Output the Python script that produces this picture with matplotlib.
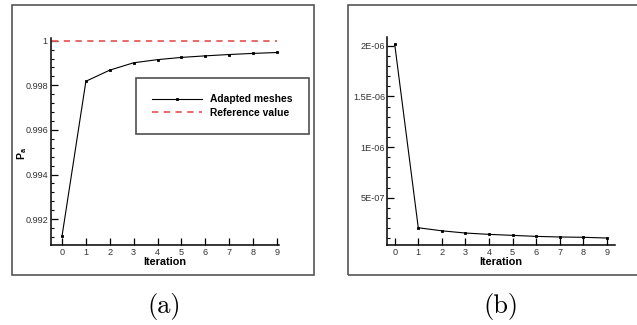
import matplotlib
matplotlib.use("Agg")
import matplotlib.pyplot as plt
from matplotlib.patches import Rectangle
from matplotlib.ticker import MultipleLocator, FuncFormatter

plt.rcParams['font.family'] = ['Liberation Sans', 'DejaVu Sans']
plt.rcParams['mathtext.fontset'] = 'custom'
plt.rcParams['mathtext.bf'] = 'Liberation Sans:bold'
plt.rcParams['mathtext.rm'] = 'Liberation Sans'

# data
iterations = [0, 1, 2, 3, 4, 5, 6, 7, 8, 9]
pa_adapted = [0.99123, 0.99818, 0.99868, 0.99901, 0.99915,
              0.99925, 0.99932, 0.99938, 0.99943, 0.99947]
pa_reference = 1.0
error_b = [2.014e-6, 2.04e-7, 1.74e-7, 1.52e-7, 1.39e-7,
           1.29e-7, 1.19e-7, 1.13e-7, 1.10e-7, 1.03e-7]

W, H = 637, 325
fig = plt.figure(figsize=(W / 100, H / 100), dpi=100)


def px_axes(x0, x1, y0, y1):
    return fig.add_axes([x0 / W, 1 - y1 / H, (x1 - x0) / W, (y1 - y0) / H])


def style(ax, ypad):
    for s in ('top', 'right'):
        ax.spines[s].set_visible(False)
    for s in ('left', 'bottom'):
        ax.spines[s].set_linewidth(1.1)
    ax.tick_params(which='both', direction='in', colors='black', labelcolor='#333333')
    ax.tick_params(axis='x', which='major', length=5, width=0.9, pad=2, labelsize=6.6)
    ax.tick_params(axis='y', which='major', length=5, width=0.9, pad=ypad, labelsize=6.6)
    ax.tick_params(axis='y', which='minor', length=2.5, width=0.8)
    ax.tick_params(axis='x', which='minor', bottom=False)
    ax.xaxis.set_major_locator(MultipleLocator(1))
    ax.set_xlabel('Iteration', fontsize=7.8, fontweight='bold', va='top')
    ax.xaxis.set_label_coords(0.5, -0.06)


# frames around each panel
fig.patches.append(Rectangle((12 / W, 1 - 275 / H), 302 / W, 270 / H, transform=fig.transFigure,
                             fill=False, edgecolor='#555555', linewidth=1.2))
fig.patches.append(Rectangle((348 / W, 1 - 275 / H), 300 / W, 270 / H, transform=fig.transFigure,
                             fill=False, edgecolor='#555555', linewidth=1.2))

# (a)
ax1 = px_axes(51, 279, 38, 245)
style(ax1, 2.2)
line_a, = ax1.plot(iterations, pa_adapted, color='black', lw=0.8, marker='s', ms=1.8,
                   mfc='black', mec='black', mew=0.6, label='Adapted meshes')
line_r = ax1.hlines(pa_reference, -0.4, iterations[-1], colors='#e65f5f', linestyles=(0, (3.5, 3)),
                    lw=1.3, label='Reference value')
ax1.set_xlim(-0.46, 9.08)
ax1.set_ylim(0.99084, 1.00012)
ax1.yaxis.set_major_locator(MultipleLocator(0.002))
ax1.yaxis.set_minor_locator(MultipleLocator(0.0004))
ax1.yaxis.set_major_formatter(FuncFormatter(lambda v, p: f'{v:g}'))
ax1.set_ylabel(r'$\mathbf{P}_\mathbf{a}$', fontsize=7.5)
ax1.yaxis.set_label_coords(-0.095, 0.444)
leg = ax1.legend(loc='upper left', bbox_to_anchor=(136 / W, 1 - 77.7 / H), bbox_transform=fig.transFigure,
                 frameon=True, fancybox=False, numpoints=1, handlelength=4.8, handletextpad=0.8,
                 borderpad=1.6, labelspacing=0.35, borderaxespad=0,
                 prop={'weight': 'bold', 'size': 7.4})
leg.get_frame().set_edgecolor('#222222')
leg.get_frame().set_linewidth(1.2)

# (b)
ax2 = px_axes(386.7, 615, 36.7, 245)
style(ax2, 1.2)
ax2.plot(iterations, error_b, color='black', lw=0.8, marker='s', ms=1.8,
         mfc='black', mec='black', mew=0.6)
ax2.set_xlim(-0.34, 9.35)
ax2.set_ylim(3.4e-8, 2.089e-6)
ax2.yaxis.set_major_locator(MultipleLocator(5e-7))
ax2.yaxis.set_minor_locator(MultipleLocator(1e-7))
ax2.yaxis.set_major_formatter(FuncFormatter(lambda v, p: f'{v:G}'))

# captions
fig.text(164 / W, 1 - 306 / H, '(a)', family='cmr10', fontsize=19, ha='center', va='center')
fig.text(501 / W, 1 - 306 / H, '(b)', family='cmr10', fontsize=19, ha='center', va='center')

fig.savefig('out.png', dpi=100)
